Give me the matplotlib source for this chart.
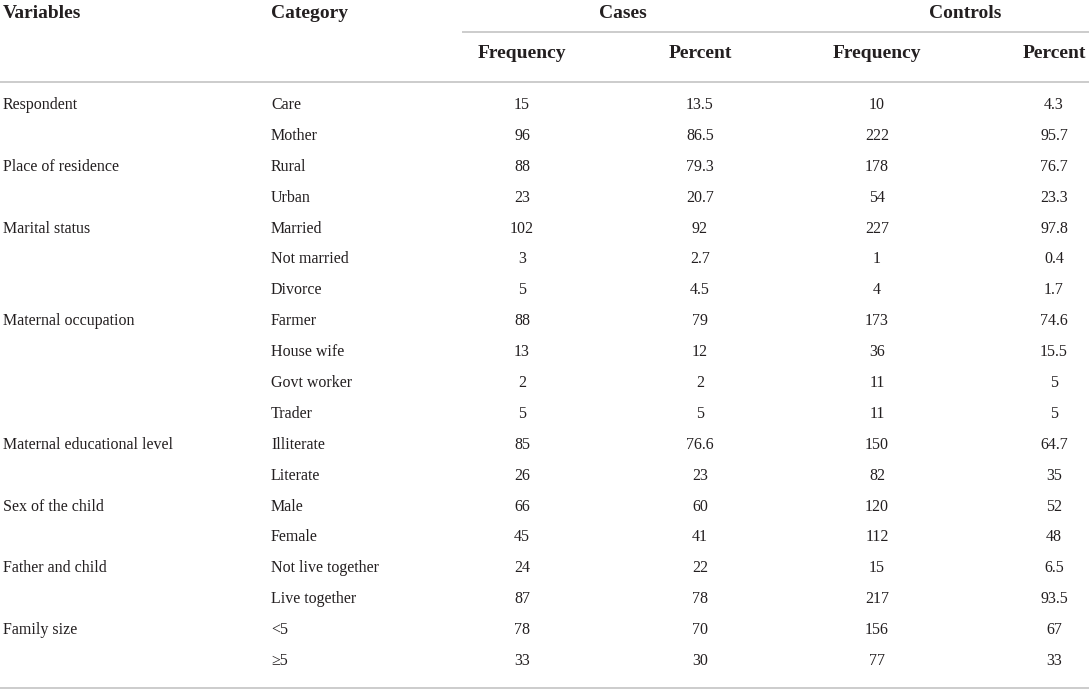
import matplotlib
matplotlib.use("Agg")
import matplotlib.pyplot as plt

variables = ["Respondent", "", "Place of residence", "", "Marital status", "", "",
             "Maternal occupation", "", "", "", "Maternal educational level", "",
             "Sex of the child", "", "Father and child", "", "Family size", ""]
categories = ["Care", "Mother", "Rural", "Urban", "Married", "Not married", "Divorce",
              "Farmer", "House wife", "Govt worker", "Trader", "Illiterate", "Literate",
              "Male", "Female", "Not live together", "Live together", "<5", "\u22655"]
cases_freq = ["15", "96", "88", "23", "102", "3", "5", "88", "13", "2", "5", "85", "26",
              "66", "45", "24", "87", "78", "33"]
cases_pct = ["13.5", "86.5", "79.3", "20.7", "92", "2.7", "4.5", "79", "12", "2", "5",
             "76.6", "23", "60", "41", "22", "78", "70", "30"]
ctrl_freq = ["10", "222", "178", "54", "227", "1", "4", "173", "36", "11", "11", "150",
             "82", "120", "112", "15", "217", "156", "77"]
ctrl_pct = ["4.3", "95.7", "76.7", "23.3", "97.8", "0.4", "1.7", "74.6", "15.5", "5", "5",
            "64.7", "35", "52", "48", "6.5", "93.5", "67", "33"]

header1 = ["Variables", "Category", "Cases", "Controls"]
header2 = ["Frequency", "Percent", "Frequency", "Percent"]

W, H = 1089, 692
fig = plt.figure(figsize=(W / 100, H / 100), dpi=100)
ax = fig.add_axes([0, 0, 1, 1])
ax.set_xlim(0, W)
ax.set_ylim(H, 0)
ax.axis("off")

font = "Liberation Serif"
tc = "#231f20"
lc = "#c8c8c8"
hs = 14
bs = 11.5

# column positions
x_var, x_cat = 3, 271
x_cols = [522, 700, 877, 1054]

# header
ax.text(x_var, 13, header1[0], fontsize=hs, fontweight="bold", family=font, color=tc, va="center", ha="left")
ax.text(x_cat, 13, header1[1], fontsize=hs, fontweight="bold", family=font, color=tc, va="center", ha="left")
ax.text(623, 13, header1[2], fontsize=hs, fontweight="bold", family=font, color=tc, va="center", ha="center")
ax.text(965, 13, header1[3], fontsize=hs, fontweight="bold", family=font, color=tc, va="center", ha="center")
for xc, h in zip(x_cols, header2):
    if xc == x_cols[-1]:
        ax.text(1086, 53, h, fontsize=hs, fontweight="bold", family=font, color=tc, va="center", ha="right")
    else:
        ax.text(xc, 53, h, fontsize=hs, fontweight="bold", family=font, color=tc, va="center", ha="center")

ax.plot([462, W], [32, 32], color=lc, lw=1.3, solid_capstyle="butt")
ax.plot([0, W], [82, 82], color=lc, lw=1.3, solid_capstyle="butt")

n = len(categories)
y0, y1 = 105, 661
step = (y1 - y0) / (n - 1)
for i in range(n):
    y = y0 + i * step
    if variables[i]:
        ax.text(x_var, y, variables[i], fontsize=bs, family=font, color=tc, va="center", ha="left")
    ax.text(x_cat, y, categories[i], fontsize=bs, family=font, color=tc, va="center", ha="left")
    for xc, col in zip(x_cols, [cases_freq, cases_pct, ctrl_freq, ctrl_pct]):
        ax.text(xc, y, col[i], fontsize=bs, family=font, color=tc, va="center", ha="center")

ax.plot([0, W], [688, 688], color=lc, lw=1.3, solid_capstyle="butt")

fig.savefig("out.png", dpi=100)
